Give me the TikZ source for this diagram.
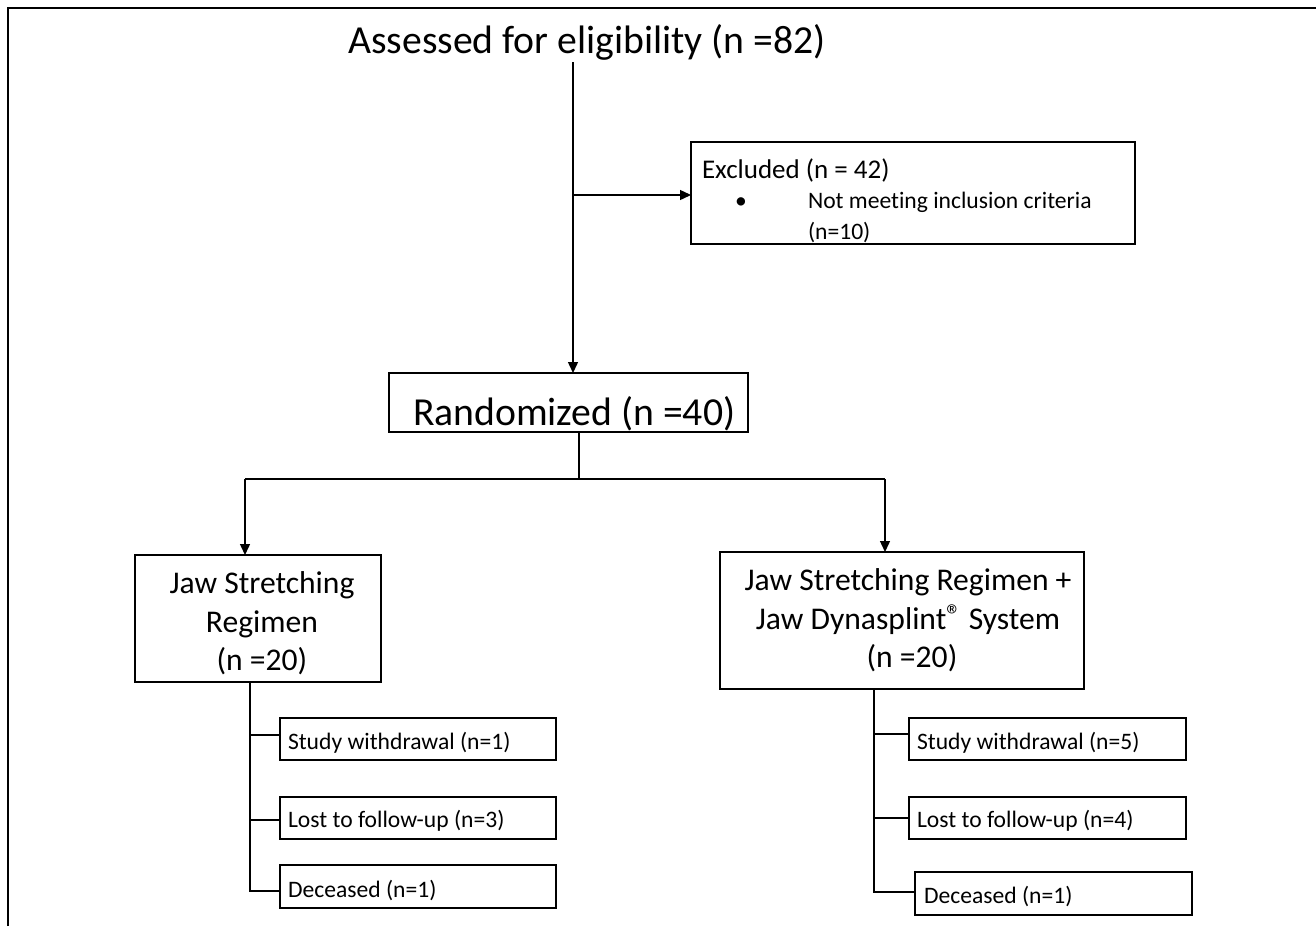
\documentclass[tikz,border=0pt]{standalone}
\usepackage{fontspec}
\setmainfont{Carlito}[Ligatures=NoCommon]
\usetikzlibrary{arrows.meta}
\newcommand{\fsBig}{\fontsize{39.7pt}{46pt}\selectfont}
\newcommand{\fsGrp}{\fontsize{31.6pt}{39pt}\selectfont}
\newcommand{\fsHead}{\fontsize{27pt}{32pt}\selectfont}
\newcommand{\fsSmall}{\fontsize{23.6pt}{28pt}\selectfont}
\newcommand{\regmark}{\raisebox{0.25ex}{\fontsize{30pt}{30pt}\selectfont ®}}
\begin{document}
\begin{tikzpicture}[x=1pt,y=-1pt,
  box/.style={draw, line width=1.3pt, inner sep=0pt, outer sep=0pt, anchor=north west},
  txt/.style={inner sep=0pt, outer sep=0pt},
  conn/.style={line width=1.4pt},
  arr/.style={line width=1.4pt, -{Triangle[length=11pt,width=10pt]}},
  frame/.style={line width=2pt}]
\useasboundingbox (0,0) rectangle (1316,926);
\draw[frame] (8,926) -- (8,8) -- (1316,8);

% boxes
\node[box, minimum width=444pt, minimum height=102pt] (exc) at (691,142) {};
\node[box, minimum width=359pt, minimum height=59pt] (rand) at (389,373) {};
\node[box, minimum width=246pt, minimum height=127pt] (jl) at (135,555) {};
\node[box, minimum width=364pt, minimum height=137pt] (jr) at (720,552) {};
\node[box, minimum width=276pt, minimum height=42pt] (lw) at (280,718) {};
\node[box, minimum width=276pt, minimum height=42pt] (ll) at (280,797) {};
\node[box, minimum width=276pt, minimum height=43pt] (ld) at (280,865) {};
\node[box, minimum width=277pt, minimum height=42pt] (rw) at (909,718) {};
\node[box, minimum width=277pt, minimum height=42pt] (rl) at (909,797) {};
\node[box, minimum width=277pt, minimum height=43pt] (rd) at (915,872) {};

% texts
\node[txt, anchor=base, font=\fsBig] (title) at (587,53) {Assessed for eligibility (n =82)};
\node[txt, anchor=base west, font=\fsHead] (exch) at (702,178) {Excluded (n = 42)};
\node[txt, anchor=base, font=\fsSmall] (bul) at (741,208) {•};
\node[txt, anchor=base west, font=\fsSmall] (exc1) at (808,208) {Not meeting inclusion criteria};
\node[txt, anchor=base west, font=\fsSmall] (exc2) at (808,239) {(n=10)};
\node[txt, anchor=base west, font=\fsBig] (randt) at (413,425) {Randomized (n =40)};
\node[txt, anchor=base, font=\fsGrp] (jl1) at (262,593) {Jaw Stretching};
\node[txt, anchor=base, font=\fsGrp] (jl2) at (262,632) {Regimen};
\node[txt, anchor=base, font=\fsGrp] (jl3) at (262,670) {(n =20)};
\node[txt, anchor=base, font=\fsGrp] (jr1) at (908,590) {Jaw Stretching Regimen +};
\node[txt, anchor=base, font=\fsGrp] (jr2) at (908,629) {Jaw Dynasplint\regmark{} System};
\node[txt, anchor=base, font=\fsGrp] (jr3) at (912,667) {(n =20)};
\node[txt, anchor=base west, font=\fsSmall] (lwt) at (288,749) {Study withdrawal (n=1)};
\node[txt, anchor=base west, font=\fsSmall] (llt) at (288,827) {Lost to follow-up (n=3)};
\node[txt, anchor=base west, font=\fsSmall] (ldt) at (288,897) {Deceased (n=1)};
\node[txt, anchor=base west, font=\fsSmall] (rwt) at (917,749) {Study withdrawal (n=5)};
\node[txt, anchor=base west, font=\fsSmall] (rlt) at (917,827) {Lost to follow-up (n=4)};
\node[txt, anchor=base west, font=\fsSmall] (rdt) at (924,903) {Deceased (n=1)};

% connectors
\coordinate (t0) at (573,62);
\coordinate (jx) at (573,195);
\draw[arr] (t0) -- (t0 |- rand.north);
\draw[arr] (jx) -- (jx -| exc.west);
\coordinate (r0) at (579,479);
\coordinate (bl) at (245,479);
\coordinate (br) at (885,479);
\draw[conn] (r0 |- rand.south) -- (r0);
\draw[conn] (bl) -- (br);
\draw[arr] (bl) -- (bl |- jl.north);
\draw[arr] (br) -- (br |- jr.north);
% left branches
\coordinate (lb1) at (250,735);
\coordinate (lb2) at (250,820);
\coordinate (lb3) at (250,891);
\draw[conn] (lb3 |- jl.south) -- (lb3) -- (lb3 -| ld.west);
\draw[conn] (lb1) -- (lb1 -| lw.west);
\draw[conn] (lb2) -- (lb2 -| ll.west);
% right branches
\coordinate (rb1) at (874,734);
\coordinate (rb2) at (874,818);
\coordinate (rb3) at (874,892);
\draw[conn] (rb3 |- jr.south) -- (rb3) -- (rb3 -| rd.west);
\draw[conn] (rb1) -- (rb1 -| rw.west);
\draw[conn] (rb2) -- (rb2 -| rl.west);
\end{tikzpicture}
\end{document}
